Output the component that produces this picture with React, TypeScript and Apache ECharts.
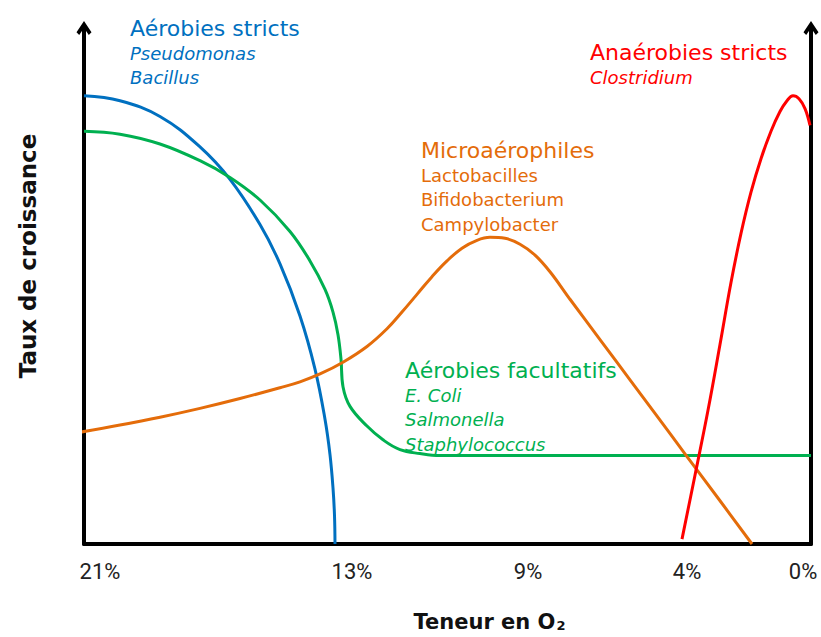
import React, { useEffect, useRef } from "react";
import * as echarts from "echarts";

// x: position along the O2 axis (arbitrary units), y: growth rate (arbitrary units)
const aerobiesStricts: number[][] = [
  [0, 456], [36, 451], [76, 435], [116, 404], [146, 371], [176, 325], [196, 285],
  [216, 232], [231, 178], [241, 127], [246, 91], [249, 57], [250.5, 29], [251, 0],
];
const aerobiesFacultatifs: number[][] = [
  [0, 420], [36, 417], [76, 407], [116, 390], [146, 373], [176, 350], [206, 318],
  [226, 288], [241, 259], [249, 236], [254, 213], [257, 188], [259, 160], [266, 140],
  [283, 120], [299, 106], [316, 96], [336, 92], [356, 90], [727, 90],
];
const microaerophiles: number[][] = [
  [-8, 113], [36, 121], [76, 129], [116, 138], [156, 148], [196, 159], [216, 165],
  [236, 173], [259, 185], [283, 201], [303, 219], [318, 236], [333, 254], [348, 272],
  [363, 288], [378, 301], [393, 309], [406, 312], [421, 311], [436, 305], [451, 294],
  [466, 277], [486, 249], [516, 208], [546, 167], [571, 133], [603, 89], [636, 44], [668, 0],
];
const anaerobiesStricts: number[][] = [
  [598, 5], [611, 70], [624, 136], [636, 203], [647, 266], [657, 316], [667, 358],
  [677, 392], [687, 420], [696, 440], [703, 451], [709, 456], [715, 453], [721, 443], [726, 426],
];

const tickLabels = ["21%", "13%", "9%", "4%", "0%"];
const tickValues = [16, 268, 444, 603, 719];

const groupTitles = ["Aérobies stricts", "Anaérobies stricts", "Microaérophiles", "Aérobies facultatifs"];
const groupSpecies = [
  ["Pseudomonas", "Bacillus"],
  ["Clostridium"],
  ["Lactobacilles", "Bifidobacterium", "Campylobacter"],
  ["E. Coli", "Salmonella", "Staphylococcus"],
];
const groupItalic = [true, true, false, true];
const groupColors = ["#0070C0", "#FF0000", "#E46C0A", "#00B050"];

// layout of annotation blocks (pixels)
const groupAnchors = [
  { x: 130, y: 17 },
  { x: 590, y: 41 },
  { x: 421, y: 139 },
  { x: 405, y: 359 },
];

const FONT = '"DejaVu Sans", "Open Sans", sans-serif';
const ARROW = "path://M5,0 L10,7.5 L8.2,9.2 L5,4.6 L1.8,9.2 L0,7.5 Z";

export default function App() {
  const ref = useRef<HTMLDivElement>(null);
  useEffect(() => {
    if (!ref.current) return;
    const chart = echarts.init(ref.current, null, { renderer: "svg" });

    const graphics: any[] = [];
    groupTitles.forEach((title, gi) => {
      const a = groupAnchors[gi];
      graphics.push({
        type: "text",
        x: a.x,
        y: a.y,
        style: { text: title, fill: groupColors[gi], font: `22px ${FONT}`, verticalAlign: "top" },
      });
      groupSpecies[gi].forEach((sp, si) => {
        graphics.push({
          type: "text",
          x: a.x,
          y: a.y + 27 + si * 24.5,
          style: {
            text: sp,
            fill: groupColors[gi],
            font: `${groupItalic[gi] ? "italic " : ""}18px ${FONT}`,
            verticalAlign: "top",
          },
        });
      });
    });

    const mkLine = (name: string, data: number[][], color: string, clip = true) => ({
      name,
      type: "line",
      data,
      smooth: 0.4,
      showSymbol: false,
      symbol: "none",
      clip,
      lineStyle: { color, width: 3 },
      z: 3,
    });

    chart.setOption({
      animation: false,
      backgroundColor: "#ffffff",
      grid: { left: 84, right: 10, top: 28, bottom: 84, containLabel: false },
      xAxis: {
        type: "value",
        min: 0,
        max: 727,
        name: "{a|Teneur en O}{s|2}",
        nameLocation: "middle",
        nameGap: 67,
        nameTextStyle: {
          padding: [0, 0, 0, 84],
          rich: {
            a: { fontFamily: FONT, fontSize: 21, fontWeight: "bold", color: "#111" },
            s: { fontFamily: FONT, fontSize: 13, fontWeight: "bold", color: "#111", padding: [8, 0, 0, 1] },
          },
        },
        axisLine: { show: true, onZero: false, lineStyle: { color: "#000", width: 4 } },
        axisTick: { show: false },
        splitLine: { show: false },
        axisLabel: {
          customValues: tickValues,
          margin: 16,
          fontSize: 22,
          color: "#222",
          fontFamily: '"Liberation Sans Narrow", "Roboto", sans-serif',
          formatter: (v: number) => {
            const i = tickValues.indexOf(v);
            return i >= 0 ? tickLabels[i] : "";
          },
        },
      },
      yAxis: [
        {
          type: "value",
          min: 0,
          max: 525,
          position: "left",
          name: "Taux de croissance",
          nameLocation: "middle",
          nameRotate: 90,
          nameGap: 45,
          nameTextStyle: {
            fontFamily: FONT,
            fontSize: 23,
            fontWeight: "bold",
            color: "#111",
            padding: [0, 0, 0, 60],
          },
          axisLine: {
            show: true,
            onZero: false,
            symbol: ["none", ARROW],
            symbolSize: [15, 14],
            lineStyle: { color: "#000", width: 4 },
          },
          axisTick: { show: false },
          axisLabel: { show: false },
          splitLine: { show: false },
        },
        {
          type: "value",
          min: 0,
          max: 525,
          position: "right",
          axisLine: {
            show: true,
            onZero: false,
            symbol: ["none", ARROW],
            symbolSize: [15, 14],
            lineStyle: { color: "#000", width: 4 },
          },
          axisTick: { show: false },
          axisLabel: { show: false },
          splitLine: { show: false },
        },
      ],
      series: [
        mkLine("Aérobies stricts", aerobiesStricts, groupColors[0]),
        mkLine("Aérobies facultatifs", aerobiesFacultatifs, groupColors[3]),
        mkLine("Microaérophiles", microaerophiles, groupColors[2], false),
        mkLine("Anaérobies stricts", anaerobiesStricts, groupColors[1]),
      ],
      graphic: graphics,
    });
    return () => chart.dispose();
  }, []);
  return (
    <div
      ref={ref}
      style={{ position: "fixed", left: 0, top: 0, width: 821, height: 637, background: "#fff" }}
    />
  );
}
